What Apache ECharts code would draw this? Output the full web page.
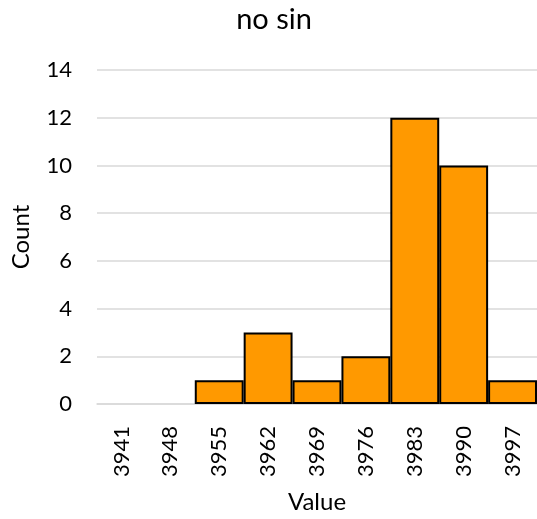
<!DOCTYPE html>
<html>
<head>
<meta charset="utf-8">
<script src="https://cdn.jsdelivr.net/npm/echarts@6/dist/echarts.min.js"></script>
<style>
  html, body { margin: 0; padding: 0; background: #fff; }
  #chart { width: 537px; height: 519px; }
</style>
</head>
<body>
<div id="chart"></div>
<script>
// Histogram bins (bin start values) and their counts
const binLabels = ['3941', '3948', '3955', '3962', '3969', '3976', '3983', '3990', '3997'];
const counts = [0, 0, 1, 3, 1, 2, 12, 10, 1];
const yTicks = { min: 0, max: 14, step: 2 };

const font = 'Lato, "Open Sans", sans-serif';
const chart = echarts.init(document.getElementById('chart'), null, { renderer: 'canvas' });

// Empty bins get no outline so nothing is drawn along the baseline
const barData = counts.map(v => v === 0
  ? { value: v, itemStyle: { borderWidth: 0 } }
  : { value: v });

chart.setOption({
  animation: false,
  backgroundColor: '#ffffff',
  title: {
    text: 'no sin',
    left: 269,
    textAlign: 'center',
    top: 0,
    textStyle: { fontFamily: font, fontSize: 29, fontWeight: 'normal', color: '#000' }
  },
  grid: { left: 97, right: 0, top: 70, bottom: 111, containLabel: false },
  xAxis: {
    type: 'category',
    data: binLabels,
    name: 'Value',
    nameLocation: 'middle',
    nameGap: 86,
    nameTextStyle: { fontFamily: font, fontSize: 24, color: '#000' },
    axisTick: { show: false },
    axisLine: { lineStyle: { color: '#d9d9d9', width: 1.5 } },
    axisLabel: {
      rotate: 90,
      margin: 22,
      fontFamily: font,
      fontSize: 22,
      color: '#000'
    }
  },
  yAxis: {
    type: 'value',
    min: yTicks.min,
    max: yTicks.max,
    interval: yTicks.step,
    name: 'Count',
    nameLocation: 'middle',
    nameGap: 64,
    nameRotate: 90,
    nameTextStyle: { fontFamily: font, fontSize: 24, color: '#000' },
    axisLine: { show: false },
    axisTick: { show: false },
    axisLabel: { margin: 25, fontFamily: font, fontSize: 22, color: '#000' },
    splitLine: { lineStyle: { color: '#d9d9d9', width: 1.5 } }
  },
  series: [{
    type: 'bar',
    data: barData,
    barWidth: '100%',
    barCategoryGap: '0%',
    itemStyle: { color: '#ff9900', borderColor: '#000', borderWidth: 2 }
  }]
});
</script>
</body>
</html>
